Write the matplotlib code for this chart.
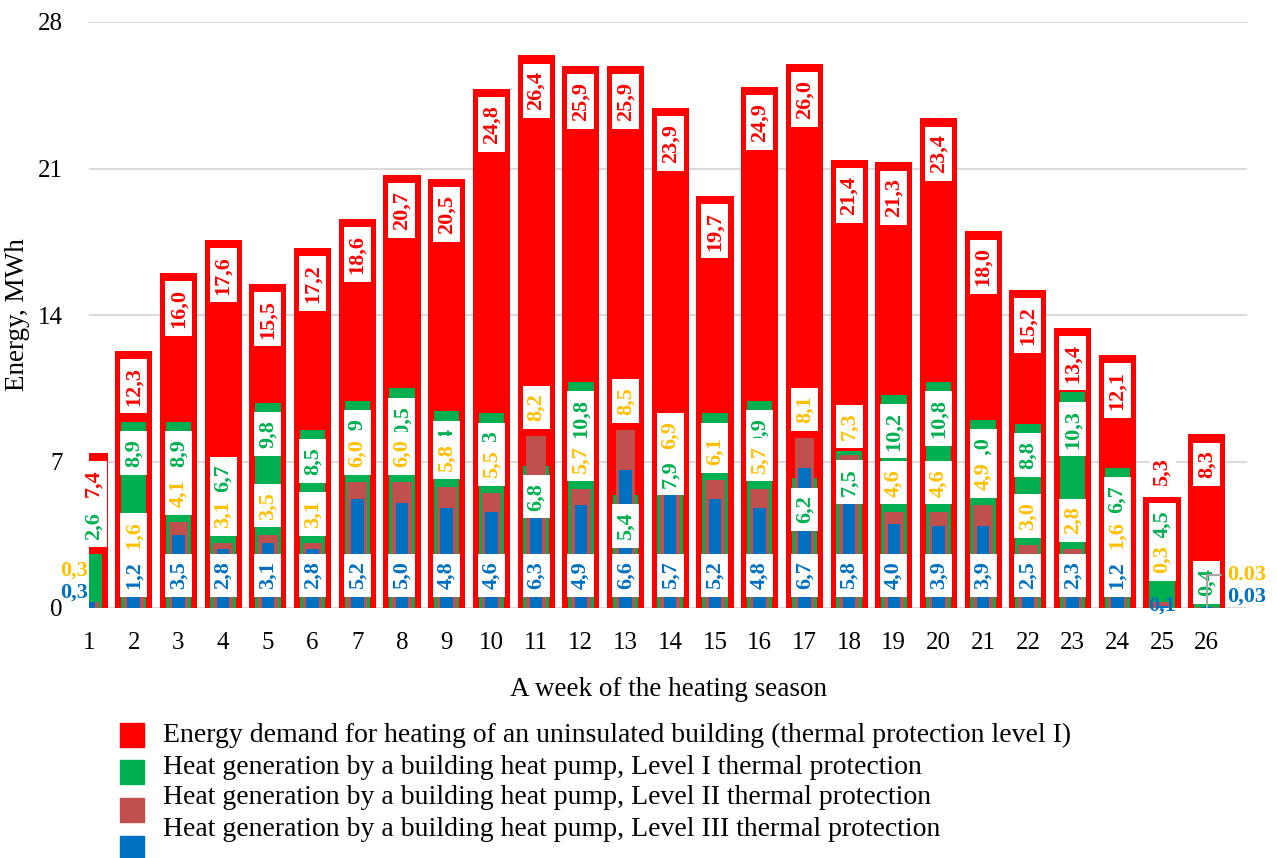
import numpy as np
import matplotlib

matplotlib.use("Agg")
import matplotlib.pyplot as plt
from matplotlib.patches import Rectangle

# Weekly energy values, MWh
weeks = list(range(1, 27))
demand_lvl1 = [7.4, 12.3, 16.0, 17.6, 15.5, 17.2, 18.6, 20.7, 20.5, 24.8, 26.4, 25.9, 25.9,
               23.9, 19.7, 24.9, 26.0, 21.4, 21.3, 23.4, 18.0, 15.2, 13.4, 12.1, 5.3, 8.3]
hp_lvl1 = [2.6, 8.9, 8.9, 6.7, 9.8, 8.5, 9.9, 10.5, 9.4, 9.3, 6.8, 10.8, 5.4,
           7.9, 9.3, 9.9, 6.2, 7.5, 10.2, 10.8, 9.0, 8.8, 10.3, 6.7, 4.5, 0.4]
hp_lvl2 = [0.3, 1.6, 4.1, 3.1, 3.5, 3.1, 6.0, 6.0, 5.8, 5.5, 8.2, 5.7, 8.5,
           6.9, 6.1, 5.7, 8.1, 7.3, 4.6, 4.6, 4.9, 3.0, 2.8, 1.6, 0.3, 0.03]
hp_lvl3 = [0.3, 1.2, 3.5, 2.8, 3.1, 2.8, 5.2, 5.0, 4.8, 4.6, 6.3, 4.9, 6.6,
           5.7, 5.2, 4.8, 6.7, 5.8, 4.0, 3.9, 3.9, 2.5, 2.3, 1.2, 0.1, 0.03]

legend_labels = [
    "Energy demand for heating of an uninsulated building (thermal protection level I)",
    "Heat generation by a building heat pump, Level I thermal protection",
    "Heat generation by a building heat pump, Level II thermal protection",
    "Heat generation by a building heat pump, Level III thermal protection",
]

RED, GREEN, BROWN, BLUE, YELLOW = "#FF0000", "#00B050", "#C0504D", "#0070C0", "#FFC000"
W, H = 1277, 858

plt.rcParams["font.family"] = "Liberation Serif"


def fmt(v):
    return f"{v:.1f}".replace(".", ",")


def box_label(ax, x, y, text, color, va, z):
    ax.text(x, y, text, rotation=90, ha="center", va=va, color=color,
            fontsize=16, fontweight="bold", zorder=z,
            bbox=dict(boxstyle="square,pad=0.35", fc="white", ec="none",
                      mutation_aspect=0.45))


fig = plt.figure(figsize=(W / 100, H / 100), dpi=100)
ax = fig.add_axes([89 / W, 1 - 608 / H, (1247 - 89) / W, (608 - 22) / H])

x = np.array(weeks)
ax.bar(x, demand_lvl1, width=0.83, color=RED, zorder=2)
ax.bar(x, hp_lvl1, width=0.57, color=GREEN, zorder=3)
ax.bar(x, hp_lvl2, width=0.44, color=BROWN, zorder=3)
ax.bar(x, hp_lvl3, width=0.28, color=BLUE, zorder=3)

ax.set_xlim(1, 26.9)
ax.set_ylim(0, 28)
ax.set_yticks([0, 7, 14, 21, 28])
ax.set_xticks(weeks)
ax.yaxis.grid(True, color="#d9d9d9", lw=1.4)
ax.set_axisbelow(True)
for s in ax.spines.values():
    s.set_visible(False)
ax.tick_params(axis="both", length=0, labelsize=18)
ax.tick_params(axis="y", pad=19)
ax.tick_params(axis="x", pad=17)
ax.set_xlabel("A week of the heating season", fontsize=19.5, labelpad=17)
ax.set_ylabel("Energy, MWh", fontsize=19.5)
ax.yaxis.set_label_coords(-0.051, 0.5)

# value labels in white boxes
for i, wk in enumerate(weeks):
    xc = 1.1 if wk == 1 else wk
    r, g, b2, b3 = demand_lvl1[i], hp_lvl1[i], hp_lvl2[i], hp_lvl3[i]

    if wk == 25:
        box_label(ax, xc, r + 0.55, fmt(r), RED, "bottom", 5)
    else:
        box_label(ax, xc, r - 0.77, fmt(r), RED, "top", 5)

    if wk == 1:
        box_label(ax, xc, g + 0.67, fmt(g), GREEN, "bottom", 6)
    elif wk == 26:
        box_label(ax, xc, 0.55, fmt(g), GREEN, "bottom", 6)
    elif wk in (4, 25):
        box_label(ax, xc, g + 0.15, fmt(g), GREEN, "top", 6)
    else:
        box_label(ax, xc, g - 0.82, fmt(g), GREEN, "top", 6)

    if wk == 25:
        box_label(ax, xc, 1.65, fmt(b2), YELLOW, "bottom", 7)
    elif wk not in (1, 26):
        box_label(ax, xc, max(b2 + 0.72, 2.82), fmt(b2), YELLOW, "bottom", 7)

    if wk not in (1, 25, 26):
        box_label(ax, xc, 1.55, fmt(b3), BLUE, "center", 8)

# small values written outside the bars
small = dict(fontsize=16, fontweight="bold", clip_on=False, zorder=9)
ax.text(0.97, 1.8, fmt(hp_lvl2[0]), color=YELLOW, ha="right", va="center", **small)
ax.text(0.97, 0.75, fmt(hp_lvl3[0]), color=BLUE, ha="right", va="center", **small)
ax.text(25, 0.1, fmt(hp_lvl3[24]), color=BLUE, ha="center", va="center", **small)
ax.annotate(f"{hp_lvl2[25]:.2f}", xy=(26, hp_lvl2[25]), xytext=(26.45, 1.58),
            color=YELLOW, ha="left", va="center", annotation_clip=False, **small,
            arrowprops=dict(arrowstyle="-", color="#a6a6a6", lw=1.5,
                            connectionstyle="angle,angleA=0,angleB=90,rad=0",
                            shrinkA=2, shrinkB=0))
ax.text(26.45, 0.53, f"{hp_lvl3[25]:.2f}".replace(".", ","), color=BLUE,
        ha="left", va="center", **small)

# legend drawn as a plain list below the chart
marker_y = [735, 772, 810, 848]
text_y = [735, 767, 798, 830]
for col, lab, my, ty in zip([RED, GREEN, BROWN, BLUE], legend_labels, marker_y, text_y):
    fig.patches.append(Rectangle((120 / W, 1 - (my + 12) / H), 24 / W, 24 / H,
                                 transform=fig.transFigure, color=col))
    fig.text(163 / W, 1 - ty / H, lab, fontsize=20, va="center", ha="left")

fig.savefig("out.png", dpi=100)
